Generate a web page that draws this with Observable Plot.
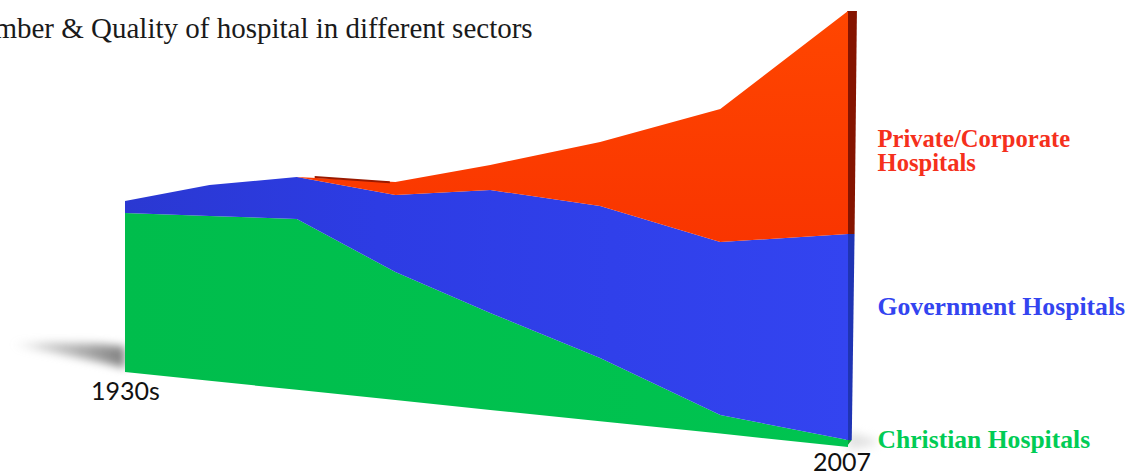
<!DOCTYPE html>
<html>
<head>
<meta charset="utf-8">
<script src="https://cdn.jsdelivr.net/npm/d3@7"></script>
<script src="https://cdn.jsdelivr.net/npm/@observablehq/plot@0.6"></script>
<style>
  html, body { margin: 0; padding: 0; background: #fff; overflow: hidden; }
  svg { display: block; }
</style>
</head>
<body>
<div id="chart"></div>
<script>
// Layer boundaries of the slanted stacked wall, by year
const years = [1930, 1939, 1948.3, 1958.8, 1968.9, 1980.6, 1993.4, 2007];
const floorEdge = [26, 23.8, 21.55, 19, 16.5, 13.7, 10.6, 7.25];
const christianTop = [65.75, 65, 64.25, 51, 40.75, 29.5, 15.25, 9];
const governmentTop = [68.75, 72.75, 74.75, 70.25, 71.5, 67.5, 58.5, 60.5];
const privateTop = [68.75, 72.75, 74.75, 73.5, 77.75, 83.5, 91.75, 116.25];

// Thin shaded rim where the private layer first emerges
const rimYears = [1950.2, 1958.2];
const rimLower = [74.5, 73.2];
const rimUpper = [75, 73.7];

// Right-hand end face of the wall: heights and depth at each height
const sideLevels = [116.25, 60.5, 60.5, 9, 9, 7.5];
const sideInner = [2006.9, 2006.9, 2006.9, 2006.8, 2006.8, 2006.7];
const sideOuter = [2007.95, 2007.7, 2007.7, 2007.4, 2007.4, 2006.9];
const sideGroups = ["private", "private", "government", "government", "christian", "christian"];
const sideColors = {private: "#851400", government: "#1f34b4", christian: "#0c9a3c"};

// Cast shadows on the ground
const shadowYears = [1918, 1922, 1927.3, 1930];
const shadowLower = [32.6, 31, 28.5, 27];
const shadowUpper = [33.2, 33.4, 33, 32.4];
const farShadowYears = [2007, 2010];
const farShadowLower = [6.5, 8];
const farShadowUpper = [11, 9];

// Text
const title = "Number & Quality of hospital in different sectors";
const seriesLabels = ["Private/Corporate\nHospitals", "Government Hospitals", "Christian Hospitals"];
const seriesLabelLevels = [81.35, 42.4, 9.1];
const seriesLabelColors = ["#f5301c", "#3344f0", "#00cc55"];
const seriesLabelSizes = [24.6, 25.7, 25.6];
const axisLabels = ["1930s", "2007"];
const axisYears = [1930, 2006.3];
const axisLevels = [21.2, 3.5];

const points = years.map((year, i) => ({
  year,
  floor: floorEdge[i],
  christian: christianTop[i],
  government: governmentTop[i],
  privateSector: privateTop[i]
}));
const rim = rimYears.map((year, i) => ({year, lower: rimLower[i], upper: rimUpper[i]}));
const side = sideLevels.map((level, i) => ({
  level, inner: sideInner[i], outer: sideOuter[i], group: sideGroups[i]
}));
const shadow = shadowYears.map((year, i) => ({year, lower: shadowLower[i], upper: shadowUpper[i]}));
const farShadow = farShadowYears.map((year, i) => ({year, lower: farShadowLower[i], upper: farShadowUpper[i]}));

// Horizontal and vertical shading used by the layers
function gradients() {
  const defs = d3.create("svg:defs");
  const add = (id, stops, horizontal = true) => {
    const g = defs.append("linearGradient").attr("id", id)
      .attr("x1", 0).attr("y1", 0)
      .attr("x2", horizontal ? 1 : 0).attr("y2", horizontal ? 0 : 1);
    for (const [offset, color, opacity = 1] of stops) {
      g.append("stop").attr("offset", offset).attr("stop-color", color).attr("stop-opacity", opacity);
    }
  };
  add("blueWash", [[0, "#2a38d2"], [0.35, "#2d3ce4"], [1, "#3344f0"]]);
  add("greenWash", [[0, "#00bd4c"], [1, "#00c450"]]);
  add("redWash", [[0, "#ff4600"], [1, "#f93500"]], false);
  add("shadowWash", [[0, "#8a8a8a", 0], [0.3, "#8a8a8a", 0.4], [1, "#808080", 1]]);
  return defs.node();
}

const chart = Plot.plot({
  width: 1139,
  height: 476,
  marginLeft: 125,
  marginRight: 291,
  marginTop: 0,
  marginBottom: 0,
  x: {domain: [1930, 2007], axis: null},
  y: {domain: [0, 119], axis: null},
  style: {background: "transparent", overflow: "hidden"},
  marks: [
    gradients,
    Plot.areaY(shadow, {x: "year", y1: "lower", y2: "upper", fill: "url(#shadowWash)", imageFilter: "blur(4px)"}),
    Plot.areaY(farShadow, {x: "year", y1: "lower", y2: "upper", fill: "#ccc", fillOpacity: 0.6, imageFilter: "blur(5px)"}),
    Plot.areaX(side, {y: "level", x1: "inner", x2: "outer", z: "group", fill: (d) => sideColors[d.group]}),
    Plot.areaY(points, {x: "year", y1: "floor", y2: "christian", fill: "url(#greenWash)"}),
    Plot.areaY(points, {x: "year", y1: "christian", y2: "government", fill: "url(#blueWash)"}),
    Plot.areaY(points, {x: "year", y1: "government", y2: "privateSector", fill: "url(#redWash)"}),
    Plot.areaY(rim, {x: "year", y1: "lower", y2: "upper", fill: "#9a1a00"}),
    Plot.text([title], {
      x: [1974], y: [112], textAnchor: "end", dx: -6, letterSpacing: 1.1,
      fontFamily: "Liberation Serif", fontSize: 29, fill: "#1a1a1a"
    }),
    ...seriesLabels.map((label, i) => Plot.text([label], {
      x: [2007], y: [seriesLabelLevels[i]], dx: 29, textAnchor: "start", lineHeight: 0.98,
      fontFamily: "Liberation Serif", fontWeight: "bold",
      fontSize: seriesLabelSizes[i], fill: seriesLabelColors[i]
    })),
    Plot.text(axisLabels, {
      x: axisYears, y: axisLevels, textAnchor: "middle",
      fontFamily: "Lato", fontSize: 25, fill: "#111"
    })
  ]
});
document.getElementById("chart").append(chart);
</script>
</body>
</html>
